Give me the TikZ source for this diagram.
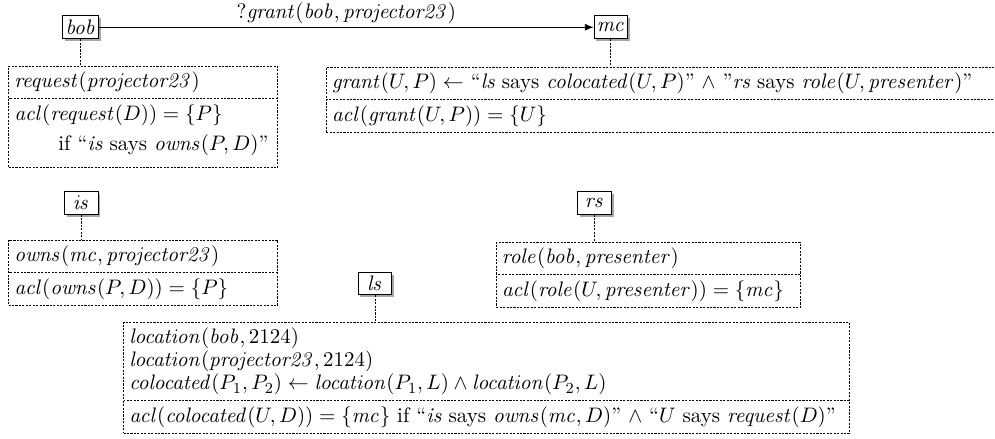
\documentclass[tikz,border=0pt]{standalone}
\usepackage{amsmath}
\usepackage{amssymb}
\usetikzlibrary{shapes.multipart,shadows,arrows.meta}

\begin{document}
\begin{tikzpicture}[
  every node/.style={font=\fontsize{10.95}{12}\selectfont},
  prin/.style={draw,fill=white,drop shadow={shadow xshift=1.2pt,shadow yshift=-1.4pt,opacity=0.7},
    minimum width=0.62cm,minimum height=0.42cm,inner sep=1.5pt},
  policy/.style={draw,dash pattern=on 1.1pt off 0.7pt,rectangle split,rectangle split parts=2,
    anchor=north west,inner xsep=3pt,inner ysep=2.8pt},
  link/.style={dash pattern=on 1.1pt off 0.7pt}]
\useasboundingbox (0,0) rectangle (18.26,-8.04);
% principals
\node[prin] (bob) at (1.48,-0.50) {$\mathit{bob}$};
\node[prin] (mc) at (11.21,-0.50) {$\mathit{mc}$};
\node[prin] (is) at (1.49,-3.72) {$\mathit{is}$};
\node[prin] (rs) at (10.91,-3.72) {$\mathit{rs}$};
\node[prin] (ls) at (6.88,-5.20) {$\mathit{ls}$};
\draw[-{Latex[length=4.5pt,width=3.6pt]}] (bob) -- (mc)
  node[midway,above,inner sep=1.5pt] {$?\mathit{grant}(\mathit{bob},\mathit{projector23})$};
% policies
\node[policy,text width=4.73cm] (req) at (0.15,-1.21)
  {$\mathit{request}(\mathit{projector23})$
  \nodepart{two} $\mathit{acl}(\mathit{request}(D))=\{P\}$\\[4pt]
  \hspace*{2.1em}if ``\emph{is} says $\mathit{owns}(P,D)$''\rule[-5.6pt]{0pt}{8pt}};
\node[policy,text width=12.6cm] (grant) at (5.98,-1.23)
  {$\mathit{grant}(U,P)\leftarrow$ ``\emph{ls} says $\mathit{colocated}(U,P)$'' $\wedge$ ''\emph{rs} says $\mathit{role}(U,\mathit{presenter})$''
  \nodepart{two} $\mathit{acl}(\mathit{grant}(U,P))=\{U\}$};
\node[policy,text width=4.73cm] (owns) at (0.15,-4.40)
  {$\mathit{owns}(\mathit{mc},\mathit{projector23})$
  \nodepart{two} $\mathit{acl}(\mathit{owns}(P,D))=\{P\}$};
\node[policy,text width=5.37cm] (role) at (9.10,-4.44)
  {$\mathit{role}(\mathit{bob},\mathit{presenter})$
  \nodepart{two} $\mathit{acl}(\mathit{role}(U,\mathit{presenter}))=\{\mathit{mc}\}$};
\node[policy,text width=13.11cm] (loc) at (2.26,-5.91)
  {$\mathit{location}(\mathit{bob},2124)$\\
  $\mathit{location}(\mathit{projector23},2124)$\\
  $\mathit{colocated}(P_1,P_2)\leftarrow\mathit{location}(P_1,L)\wedge\mathit{location}(P_2,L)$
  \nodepart{two} $\mathit{acl}(\mathit{colocated}(U,D))=\{\mathit{mc}\}$ if ``\emph{is} says $\mathit{owns}(\mathit{mc},D)$'' $\wedge$ ``$U$ says $\mathit{request}(D)$''};
% links
\draw[link] (bob.south) -- (bob.south |- req.north);
\draw[link] (mc.south) -- (mc.south |- grant.north);
\draw[link] (is.south) -- (is.south |- owns.north);
\draw[link] (rs.south) -- (rs.south |- role.north);
\draw[link] (ls.south) -- (ls.south |- loc.north);
\end{tikzpicture}
\end{document}
